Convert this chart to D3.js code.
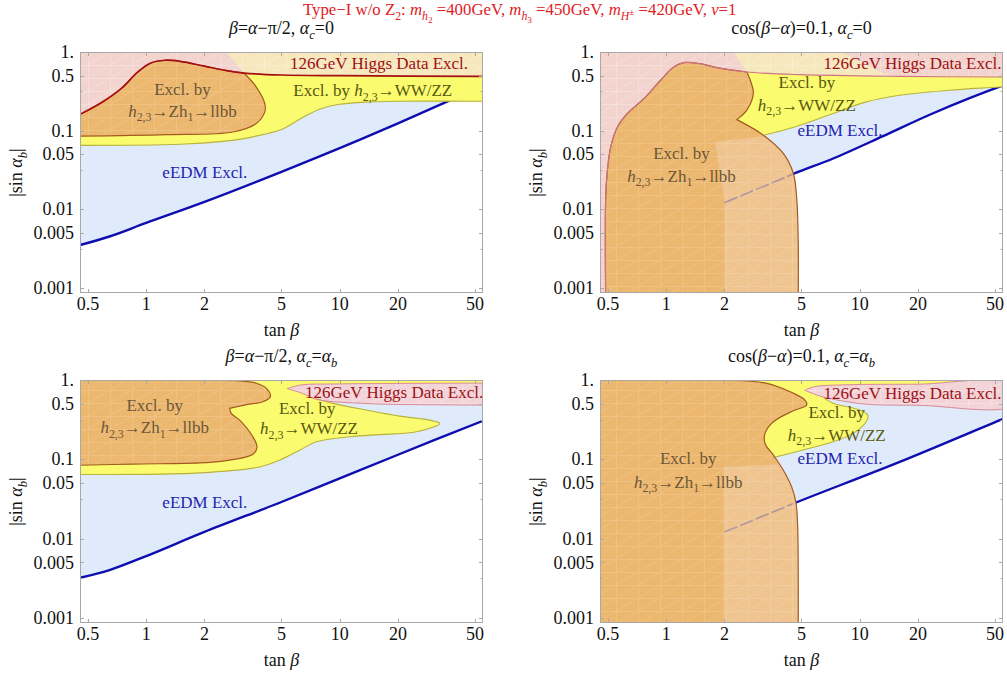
<!DOCTYPE html>
<html>
<head>
<meta charset="utf-8">
<script src="https://cdn.jsdelivr.net/npm/d3@7"></script>
<style>
  html, body { margin: 0; padding: 0; background: #fff; }
  svg { display: block; font-family: "Liberation Serif", "Times New Roman", serif; }
</style>
</head>
<body>
<svg id="chart" width="1007" height="677"></svg>
<script>
// ---------- axes ----------
const tanBetaRange = [0.455, 55];
const sinAlphaRange = [0.00086, 1];
const xTickValues = [0.5, 1, 2, 5, 10, 20, 50];
const xTickLabels = ["0.5", "1", "2", "5", "10", "20", "50"];
const yTickValues = [1, 0.5, 0.1, 0.05, 0.01, 0.005, 0.001];
const yTickLabels = ["1.", "0.5", "0.1", "0.05", "0.01", "0.005", "0.001"];
const yMinorValues = [0.316, 0.0316, 0.00316];

// ---------- panel A: beta = alpha - pi/2, alpha_c = 0 ----------
const eedmEdgeA = [[0.455,0.0035],[0.646,0.0045],[1,0.0067],[2,0.0124],[5,0.0299],[10,0.06],[20,0.124],[35.6,0.232],[60,0.4]];
const higgsEdgeA = [[0.455,0.161],[0.6,0.235],[0.75,0.35],[0.9,0.55],[1.05,0.72],[1.25,0.785],[1.5,0.76],[2,0.66],[2.6,0.58],[3.2,0.54],[5,0.51],[10,0.5],[60,0.49]];
const zhEdgeA = [[3.2,0.54],[3.7,0.36],[4.1,0.221],[4.1,0.173],[3.7,0.123],[2.8,0.096],[1.27,0.089],[0.455,0.085]];
const wwEdgeA = [[60,0.236],[20,0.236],[13,0.229],[10,0.216],[8,0.19],[6.5,0.149],[5,0.103],[4,0.089],[3.2,0.079],[2.5,0.073],[1.5,0.067],[0.455,0.065]];

// ---------- panel B: cos(beta - alpha) = 0.1, alpha_c = 0 ----------
const eedmEdgeB = [[0.455,0.0034],[1,0.0064],[2,0.0121],[4.6,0.0285],[7.29,0.0442],[13.2,0.085],[23.8,0.165],[52.5,0.359],[60,0.40]];
const higgsEdgeB = [[0.487,0.0006],[0.487,0.0144],[0.497,0.0314],[0.517,0.062],[0.56,0.111],[0.63,0.165],[0.768,0.256],[0.935,0.437],[1.094,0.645],[1.233,0.733],[1.5,0.71],[1.83,0.633],[2.61,0.557],[4.91,0.515],[16.1,0.49],[60,0.48]];
const zhEdgeB1 = [[2.61,0.557],[2.72,0.437],[2.82,0.296],[2.61,0.182],[2.32,0.138]];
const zhEdgeB2 = [[2.32,0.138],[3.18,0.0875],[4.03,0.0512],[4.54,0.0285],[4.72,0.0144],[4.81,0.004],[4.81,0.0006]];
const wwEdgeB = [[60,0.37],[52.5,0.359],[29,0.326],[16.1,0.282],[10.8,0.232],[7.29,0.165],[4.91,0.117],[4.03,0.101],[3.18,0.0875]];
const zhOverlapB = [[1.79,0.072],[3.6,0.088],[6,0.09],[6,0.0005],[2,0.0005],[2,0.0124]];

// ---------- panel C: beta = alpha - pi/2, alpha_c = alpha_b ----------
const eedmEdgeC = [[0.455,0.0032],[0.646,0.0040],[1,0.006],[2,0.0121],[5,0.0289],[10,0.0575],[20,0.114],[55,0.306],[60,0.33]];
const zhEdgeC1 = [[2.4,0.985],[3.04,0.975],[3.71,0.91],[4.18,0.785],[4.38,0.615],[4.01,0.532],[3.3,0.49],[2.7,0.438]];
const zhEdgeC2 = [[2.7,0.438],[2.75,0.38],[3.04,0.312],[3.56,0.192],[3.74,0.143],[3.6,0.118],[3.29,0.107],[2.5,0.095],[1.89,0.09],[0.853,0.087],[0.455,0.084]];
const wwEdgeC = [[5.35,0.78],[6.4,0.68],[7.57,0.58],[9.23,0.507],[13.7,0.418],[20.4,0.35],[29.2,0.312],[32.9,0.283],[24.9,0.222],[16.7,0.206],[11.3,0.192],[7.57,0.166],[6.21,0.13],[4.9,0.0975],[3.86,0.08],[1.89,0.0673],[0.455,0.0643]];
const higgsEdgeC = [[5.35,0.78],[6.4,0.87],[9.23,0.89],[20,0.905],[55,0.915],[62,0.915],[62,0.483],[55,0.483],[20,0.492],[13.7,0.505],[7.57,0.57],[6.4,0.68],[5.35,0.78]];

// ---------- panel D: cos(beta - alpha) = 0.1, alpha_c = alpha_b ----------
const eedmEdgeD = [[0.455,0.0032],[1,0.006],[2,0.0121],[4.54,0.0276],[16.1,0.0927],[54.7,0.321],[60,0.35]];
const zhEdgeD = [[2.2,0.985],[3.31,0.908],[4.37,0.711],[5.21,0.559],[5.32,0.483],[4.54,0.409],[3.58,0.297],[3.24,0.212],[3.24,0.158],[3.58,0.113],[4.03,0.0728],[4.45,0.0448],[4.69,0.0276],[4.78,0.014],[4.81,0.005],[4.81,0.0005]];
const wwEdgeD = [[5.2,0.74],[6.49,0.6],[7.29,0.51],[10,0.418],[11,0.361],[10.8,0.297],[9.24,0.212],[7.29,0.166],[4.91,0.128],[3.58,0.105]];
const higgsEdgeD = [[5.2,0.74],[5.8,0.82],[8.57,0.87],[20,0.885],[62,0.89],[62,0.479],[20,0.48],[10.4,0.5],[6.49,0.61],[5.6,0.69],[5.2,0.74]];
const zhOverlapD = [[1.98,0.08],[3.4,0.085],[6,0.09],[6,0.0005],[1.98,0.0005]];

// ---------- text ----------
const titleMain = [{t:"Type−I w/o Z"},{t:"2",lv:"s"},{t:": "},{t:"m",i:1},{t:"h",i:1,lv:"s"},{t:"2",lv:"ss"},{t:" =400GeV, "},
  {t:"m",i:1},{t:"h",i:1,lv:"s"},{t:"3",lv:"ss"},{t:" =450GeV, "},{t:"m",i:1},{t:"H",i:1,lv:"s"},{t:"±",lv:"sp"},{t:" =420GeV, "},{t:"ν",i:1},{t:"=1"}];
const titleA = [{t:"β",i:1},{t:"="},{t:"α",i:1},{t:"−π/2, "},{t:"α",i:1},{t:"c",i:1,lv:"s"},{t:"=0"}];
const titleB = [{t:"cos("},{t:"β",i:1},{t:"−"},{t:"α",i:1},{t:")=0.1, "},{t:"α",i:1},{t:"c",i:1,lv:"s"},{t:"=0"}];
const titleC = [{t:"β",i:1},{t:"="},{t:"α",i:1},{t:"−π/2, "},{t:"α",i:1},{t:"c",i:1,lv:"s"},{t:"="},{t:"α",i:1},{t:"b",i:1,lv:"s"}];
const titleD = [{t:"cos("},{t:"β",i:1},{t:"−"},{t:"α",i:1},{t:")=0.1, "},{t:"α",i:1},{t:"c",i:1,lv:"s"},{t:"="},{t:"α",i:1},{t:"b",i:1,lv:"s"}];
const xAxisLabel = [{t:"tan "},{t:"β",i:1}];
const yAxisLabel = [{t:"|sin "},{t:"α",i:1},{t:"b",i:1,lv:"s"},{t:"|"}];
const T_HIGGS = [{t:"126GeV Higgs Data Excl."}];
const T_EXCL = [{t:"Excl. by"}];
const T_ZH = [{t:"h",i:1},{t:"2,3",lv:"s"},{t:"→Zh"},{t:"1",lv:"s"},{t:"→llbb"}];
const T_WW = [{t:"h",i:1},{t:"2,3",lv:"s"},{t:"→WW/ZZ"}];
const T_WW1 = [{t:"Excl. by "},{t:"h",i:1},{t:"2,3",lv:"s"},{t:"→WW/ZZ"}];
const T_EEDM = [{t:"eEDM Excl."}];

const C = {
  eedmFill:"#dfebfa", eedmLine:"#0d0db2", eedmFaint:"#ad93a0",
  wwFill:"#fbfb70", wwLine:"#b9b23b",
  zhFill:"#ecb86f", zhPatch:"#efc48f", zhLine:"#a35a22",
  higgsFill:"#f2d3cd", higgsPeach:"#f6e7bd", sliverFill:"#f2d3d8",
  higgsDark:"#a50f12", higgsLight:"#cf7482",
  txtHiggs:"#9e1014", txtWW:"#57580e", txtZH:"#6c5638", txtEEDM:"#2323b0",
  frame:"#a8a8a8", ink:"#111", red:"#e0201e"
};

const S = true, L = false;
const panels = [
  { key:"A", col:0, row:0, title:titleA, eedm:eedmEdgeA,
    ww:[[[[2.6,1],[60,1]],L],[wwEdgeA,S],[[[0.3,0.065],[0.3,0.1],[3.2,0.54]],L]],
    wwStroke:wwEdgeA,
    zh:[[higgsEdgeA.filter(d=>d[0]<=3.2),S],[zhEdgeA,S],[[[0.3,0.085],[0.3,0.161]],L]],
    higgs:[[higgsEdgeA,S],[[[60,1.5],[0.3,1.5],[0.3,0.161]],L]],
    higgsStroke:higgsEdgeA, higgsColor:C.higgsDark, higgsWidth:1.7, peach:true, sliver:false,
    labels:[
      {at:[5.53,0.608], anchor:"start", color:C.txtHiggs, segs:T_HIGGS},
      {at:[5.76,0.275], anchor:"start", color:C.txtWW, segs:T_WW1},
      {at:[1.54,0.281], anchor:"middle", color:C.txtZH, segs:T_EXCL},
      {at:[1.54,0.151], anchor:"middle", color:C.txtZH, segs:T_ZH},
      {at:[2.01,0.0253], anchor:"middle", color:C.txtEEDM, segs:T_EEDM}
    ]},
  { key:"B", col:1, row:0, title:titleB, eedm:eedmEdgeB,
    ww:[[[[2.23,1],[8,1],[14,0.5],[60,0.5]],L],[wwEdgeB,S],[[[2.0,0.09],[2.0,0.5],[2.61,0.557]],L]],
    wwStroke:wwEdgeB,
    zh:[[higgsEdgeB.filter(d=>d[0]<=2.61),S],[zhEdgeB1,S],[zhEdgeB2,S]],
    higgs:[[higgsEdgeB,S],[[[60,1.5],[0.3,1.5],[0.3,0.0006]],L]],
    higgsStroke:higgsEdgeB, higgsColor:C.higgsLight, higgsWidth:1.1, peach:true, sliver:false,
    overlap:zhOverlapB, faint:eedmEdgeB.filter(d=>d[0]>=2 && d[0]<=4.6),
    labels:[
      {at:[6.49,0.608], anchor:"start", color:C.txtHiggs, segs:T_HIGGS},
      {at:[5.33,0.353], anchor:"middle", color:C.txtWW, segs:T_EXCL},
      {at:[5.33,0.180], anchor:"middle", color:C.txtWW, segs:T_WW},
      {at:[7.91,0.0854], anchor:"middle", color:C.txtEEDM, segs:T_EEDM},
      {at:[1.20,0.0435], anchor:"middle", color:C.txtZH, segs:T_EXCL},
      {at:[1.20,0.0225], anchor:"middle", color:C.txtZH, segs:T_ZH}
    ]},
  { key:"C", col:0, row:1, title:titleC, eedm:eedmEdgeC,
    ww:[[[[2.4,1],[62,1],[62,0.8],[6.5,0.82]],L],[wwEdgeC,S],[[[0.3,0.0643],[0.3,0.3]],L]],
    wwStroke:wwEdgeC.filter((d,i)=>i>=2),
    zh:[[[[0.3,0.985],[2.4,0.985]],L],[zhEdgeC1,S],[zhEdgeC2,S],[[[0.3,0.084]],L]],
    higgs:[[higgsEdgeC,S]],
    higgsStroke:null, higgsColor:"#d98a95", higgsWidth:1, peach:false, sliver:true,
    labels:[
      {at:[6.62,0.6], anchor:"start", color:C.txtHiggs, segs:T_HIGGS},
      {at:[6.8,0.376], anchor:"middle", color:C.txtWW, segs:T_EXCL},
      {at:[6.94,0.206], anchor:"middle", color:C.txtWW, segs:T_WW},
      {at:[1.107,0.412], anchor:"middle", color:C.txtZH, segs:T_EXCL},
      {at:[1.107,0.214], anchor:"middle", color:C.txtZH, segs:T_ZH},
      {at:[2.01,0.0246], anchor:"middle", color:C.txtEEDM, segs:T_EEDM}
    ]},
  { key:"D", col:1, row:1, title:titleD, eedm:eedmEdgeD,
    ww:[[[[2.2,1],[62,1],[62,0.8],[6.5,0.8]],L],[wwEdgeD,S],[[[3.0,0.15],[3.0,0.5]],L]],
    wwStroke:wwEdgeD.filter((d,i)=>i>=1),
    zh:[[[[0.3,0.985],[2.2,0.985]],L],[zhEdgeD,S],[[[0.3,0.0005]],L]],
    higgs:[[higgsEdgeD,S]],
    higgsStroke:null, higgsColor:"#d98a95", higgsWidth:1, peach:false, sliver:true,
    overlap:zhOverlapD, faint:eedmEdgeD.filter(d=>d[0]>=2 && d[0]<=4.54),
    labels:[
      {at:[6.49,0.584], anchor:"start", color:C.txtHiggs, segs:T_HIGGS},
      {at:[7.61,0.336], anchor:"middle", color:C.txtWW, segs:T_EXCL},
      {at:[7.61,0.172], anchor:"middle", color:C.txtWW, segs:T_WW},
      {at:[7.91,0.0872], anchor:"middle", color:C.txtEEDM, segs:T_EEDM},
      {at:[1.30,0.0872], anchor:"middle", color:C.txtZH, segs:T_EXCL},
      {at:[1.30,0.044], anchor:"middle", color:C.txtZH, segs:T_ZH}
    ]}
];

// ---------- layout ----------
const cols = [[80, 483], [600, 1003]];
const rows = [[52, 293], [380, 623]];
const FS = 18, LFS = 17, TFS = 16.8;

const svg = d3.select("#chart");
const defs = svg.append("defs");

// faint triangular mesh carried by the filled exclusion areas
const mesh = defs.append("pattern").attr("id", "mesh")
  .attr("patternUnits", "userSpaceOnUse").attr("width", 22).attr("height", 13);
mesh.append("path").attr("d", "M0.5,0V13M0,0.5H22M0,13L22,0")
  .attr("stroke", "#fff").attr("stroke-width", 0.9).attr("fill", "none");

// rich text with italics, subscripts and superscripts
const LEVELS = { s:{shift:0.28,size:0.7}, ss:{shift:0.45,size:0.55}, sp:{shift:0.0,size:0.55} };
function rich(text, segs, fs) {
  let cur = 0;
  segs.forEach(s => {
    const lv = s.lv ? LEVELS[s.lv] : {shift:0,size:1};
    const shift = lv.shift * fs;
    text.append("tspan")
      .attr("dy", (shift - cur).toFixed(2))
      .attr("font-size", (lv.size * fs).toFixed(2))
      .attr("font-style", s.i ? "italic" : null)
      .text(s.t);
    cur = shift;
  });
  return text;
}

function lineStr(pts, smooth, x, y) {
  if (smooth) {
    return d3.line().x(d => x(d[0])).y(d => y(d[1])).curve(d3.curveCatmullRom.alpha(0.5))(pts);
  }
  return pts.map((d, j) => (j ? "L" : "M") + x(d[0]).toFixed(2) + "," + y(d[1]).toFixed(2)).join("");
}
function pathOf(pieces, x, y, close = true) {
  let d = "";
  pieces.forEach((p, i) => {
    const s = lineStr(p[0], p[1], x, y);
    d += i ? "L" + s.slice(1) : s;
  });
  return close ? d + "Z" : d;
}

function drawPanel(p) {
  const [x0, x1] = cols[p.col], [y0, y1] = rows[p.row];
  const x = d3.scaleLog().domain(tanBetaRange).range([x0, x1]);
  const y = d3.scaleLog().domain(sinAlphaRange).range([y1, y0]);
  const id = p.key;

  defs.append("clipPath").attr("id", "frame" + id)
    .append("rect").attr("x", x0).attr("y", y0).attr("width", x1 - x0).attr("height", y1 - y0);
  const g = svg.append("g").attr("clip-path", `url(#frame${id})`);

  // eEDM exclusion: everything above the eEDM bound
  g.append("path").attr("d", pathOf([[p.eedm, S], [[[60, 1.5], [0.3, 1.5]], L]], x, y)).attr("fill", C.eedmFill);
  g.append("path").attr("d", lineStr(p.eedm, S, x, y)).attr("fill", "none")
    .attr("stroke", C.eedmLine).attr("stroke-width", 2.4);

  // h2,3 -> WW/ZZ exclusion
  const wwD = pathOf(p.ww, x, y);
  g.append("path").attr("d", wwD).attr("fill", C.wwFill);

  // h2,3 -> Z h1 -> llbb exclusion
  const zhD = pathOf(p.zh, x, y);
  g.append("path").attr("d", zhD).attr("fill", C.zhFill);
  if (p.overlap) {
    defs.append("clipPath").attr("id", "zh" + id).append("path").attr("d", zhD);
    const gz = g.append("g").attr("clip-path", `url(#zh${id})`);
    gz.append("path").attr("d", lineStr(p.overlap, L, x, y) + "Z").attr("fill", C.zhPatch);
    gz.append("path").attr("d", lineStr(p.faint, S, x, y)).attr("fill", "none")
      .attr("stroke", C.eedmFaint).attr("stroke-width", 1.6).attr("stroke-dasharray", "14,3");
  }
  g.append("path").attr("d", zhD).attr("fill", "url(#mesh)").attr("opacity", 0.15);

  // 126 GeV Higgs data exclusion
  const hD = pathOf(p.higgs, x, y);
  g.append("path").attr("d", hD).attr("fill", p.sliver ? C.sliverFill : C.higgsFill);
  if (p.peach) {
    defs.append("clipPath").attr("id", "hg" + id).append("path").attr("d", hD);
    g.append("path").attr("d", wwD).attr("fill", C.higgsPeach).attr("clip-path", `url(#hg${id})`);
  }
  g.append("path").attr("d", hD).attr("fill", "url(#mesh)").attr("opacity", 0.3);

  // boundaries
  g.append("path").attr("d", lineStr(p.wwStroke, S, x, y)).attr("fill", "none")
    .attr("stroke", C.wwLine).attr("stroke-width", 1.1);
  g.append("path").attr("d", zhD).attr("fill", "none").attr("stroke", C.zhLine).attr("stroke-width", 1.2);
  if (p.higgsStroke) {
    g.append("path").attr("d", lineStr(p.higgsStroke, S, x, y)).attr("fill", "none")
      .attr("stroke", p.higgsColor).attr("stroke-width", p.higgsWidth);
  } else {
    g.append("path").attr("d", hD).attr("fill", "none")
      .attr("stroke", p.higgsColor).attr("stroke-width", p.higgsWidth);
  }

  // region labels
  p.labels.forEach(l => {
    const t = g.append("text").attr("x", x(l.at[0])).attr("y", y(l.at[1]))
      .attr("text-anchor", l.anchor).attr("fill", l.color).attr("font-size", LFS);
    rich(t, l.segs, LFS);
  });

  // frame and ticks
  svg.append("rect").attr("x", x0 + 0.5).attr("y", y0 + 0.5).attr("width", x1 - x0 - 1).attr("height", y1 - y0 - 1)
    .attr("fill", "none").attr("stroke", C.frame).attr("stroke-width", 1);
  const tk = svg.append("g").attr("stroke", C.frame).attr("stroke-width", 1);
  yTickValues.forEach(v => {
    const yy = Math.round(y(v)) + 0.5;
    tk.append("line").attr("x1", x0).attr("x2", x0 + 4).attr("y1", yy).attr("y2", yy);
    tk.append("line").attr("x1", x1 - 4).attr("x2", x1).attr("y1", yy).attr("y2", yy);
  });
  yMinorValues.forEach(v => {
    const yy = Math.round(y(v)) + 0.5;
    tk.append("line").attr("x1", x0).attr("x2", x0 + 2.5).attr("y1", yy).attr("y2", yy);
    tk.append("line").attr("x1", x1 - 2.5).attr("x2", x1).attr("y1", yy).attr("y2", yy);
  });
  xTickValues.forEach(v => {
    const xx = Math.round(x(v)) + 0.5;
    tk.append("line").attr("x1", xx).attr("x2", xx).attr("y1", y1).attr("y2", y1 - 4);
    tk.append("line").attr("x1", xx).attr("x2", xx).attr("y1", y0).attr("y2", y0 + 4);
  });

  const lab = svg.append("g").attr("fill", C.ink).attr("font-size", FS);
  yTickValues.forEach((v, i) => {
    lab.append("text").attr("x", x0 - 6).attr("y", y(v)).attr("dy", "0.34em")
      .attr("text-anchor", "end").text(yTickLabels[i]);
  });
  xTickValues.forEach((v, i) => {
    lab.append("text").attr("x", x(v)).attr("y", y1 + 17)
      .attr("text-anchor", "middle").text(xTickLabels[i]);
  });

  // axis titles and panel title
  rich(lab.append("text").attr("x", (x0 + x1) / 2).attr("y", y1 + 43).attr("text-anchor", "middle"), xAxisLabel, FS);
  const yl = lab.append("text").attr("text-anchor", "middle")
    .attr("transform", `translate(${x0 - 58},${(y0 + y1) / 2}) rotate(-90)`);
  rich(yl, yAxisLabel, FS);
  rich(lab.append("text").attr("x", (x0 + x1) / 2).attr("y", y0 - 18).attr("text-anchor", "middle"), p.title, FS);
}

panels.forEach(drawPanel);

// overall heading
rich(svg.append("text").attr("x", 303).attr("y", 15).attr("fill", C.red).attr("font-size", TFS), titleMain, TFS);
</script>
</body>
</html>
